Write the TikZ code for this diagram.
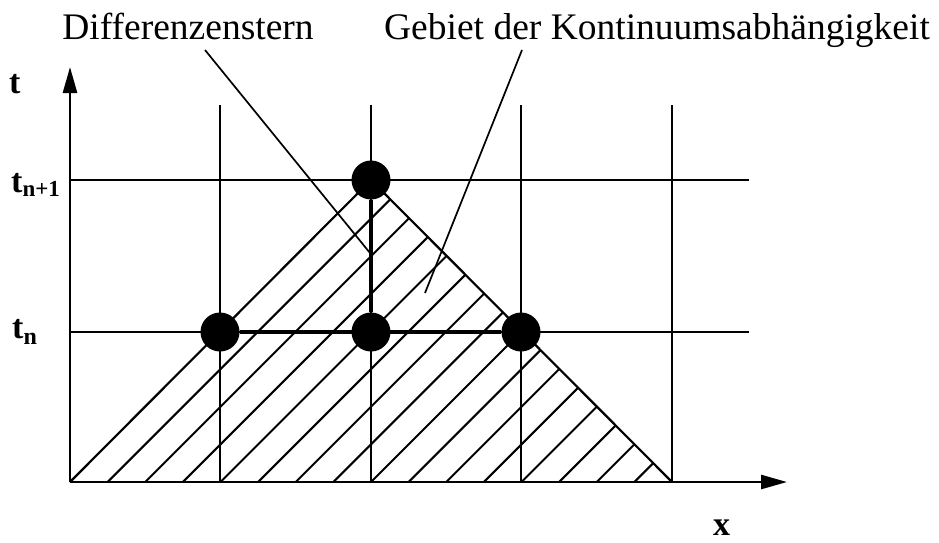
\documentclass[tikz,border=0pt]{standalone}
\usepackage{fontspec}
\setmainfont{Liberation Serif}
\usetikzlibrary{arrows.meta}
\begin{document}
\begin{tikzpicture}[x=1pt,y=-1pt,
  gridline/.style={line width=2.1pt},
  axisline/.style={line width=2.5pt,-{Triangle[length=26pt,width=14pt]}},
  hatchline/.style={line width=2pt},
  edgeline/.style={line width=2.2pt},
  starline/.style={line width=4.5pt},
  dot/.style={circle,fill=black,minimum size=39pt,inner sep=0pt},
  leader/.style={line width=1.7pt},
  lbl/.style={font=\fontsize{37.5}{40}\selectfont,anchor=base,inner sep=0pt},
  axlbl/.style={font=\fontsize{34}{36}\selectfont\bfseries,anchor=base west,inner sep=0pt}]
\useasboundingbox (0,0) rectangle (939,543);

% hatching of the region
\begin{scope}
  \clip (70,482) -- (371,180) -- (672,482) -- cycle;
  \foreach \k in {1,...,15}
    \draw[hatchline] ({70+\k*37.625},482) -- ++(400,-400);
\end{scope}
\coordinate (bl) at (70,482);
\coordinate (apex) at (371,180);
\coordinate (br) at (672,482);
\draw[edgeline] (bl) -- (apex) -- (br);

% grid
\foreach \x in {220,371,521,672}
  \draw[gridline] (\x,105) -- (\x,482);
\foreach \y in {180,332}
  \draw[gridline] (70,\y) -- (749,\y);

% axes
\coordinate (origin) at (70,482);
\coordinate (ttip) at (70,67);
\coordinate (xtip) at (787,482);
\draw[axisline] (origin) -- (ttip);
\draw[axisline] (origin) -- (xtip);

% difference star
\node[dot] (dL) at (220,332) {};
\node[dot] (dC) at (371,332) {};
\node[dot] (dR) at (521,332) {};
\node[dot] (dT) at (371,180) {};
\draw[starline] (dL) -- (dR);
\draw[starline] (dC) -- (dT);

% labels
\node[lbl] (ldiff) at (188,40) {Differenzenstern};
\node[lbl] (lgeb) at (657,40) {Gebiet der Kontinuumsabhängigkeit};
\coordinate (s1) at (205,50);
\coordinate (e1) at (370,253);
\coordinate (s2) at (522,50);
\coordinate (e2) at (425,293);
\draw[leader] (s1) -- (e1);
\draw[leader] (s2) -- (e2);

\node[axlbl] (lt) at (9,93) {t};
\node[axlbl] (ltn1) at (11,192) {t\raisebox{-4pt}{\fontsize{23}{23}\selectfont n+1}};
\node[axlbl] (ltn) at (12,338) {t\raisebox{-6pt}{\fontsize{24}{24}\selectfont n}};
\node[axlbl] (lx) at (713,535) {x};
\end{tikzpicture}
\end{document}
